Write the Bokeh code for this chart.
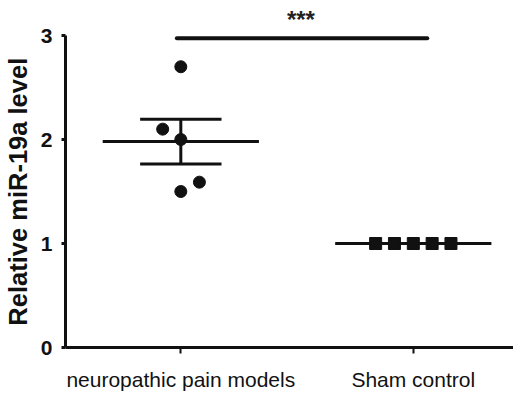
from bokeh.plotting import figure
from bokeh.models import FixedTicker, Range1d
from bokeh.embed import file_html
from bokeh.resources import INLINE
from bokeh.core.properties import value

# ---- data ----
groups = ["neuropathic pain models", "Sham control"]
group_pos = [1, 2]
model_vals = [2.7, 2.1, 2.0, 1.5, 1.59]
model_x = [1.0, 0.922, 1.0, 1.0, 1.08]
sham_vals = [1.0, 1.0, 1.0, 1.0, 1.0]
sham_x = [1.838, 1.919, 2.0, 2.081, 2.162]
means = [1.98, 1.0]
sems = [0.215, 0.0]
y_ticks = [0, 1, 2, 3]
y_title = "Relative miR-19a level"
sig_text = "***"
sig_y = 2.975
sig_x0, sig_x1 = 0.983, 2.06

INK = "#111111"
FONT = "Liberation Sans"
X0, X1, Y1 = 0.504, 2.431, 3.337

p = figure(width=513, height=393,
           x_range=Range1d(X0, X1), y_range=Range1d(0, Y1),
           output_backend="svg", toolbar_location=None,
           min_border_left=63, min_border_right=0,
           min_border_top=0, min_border_bottom=40)
p.outline_line_color = None
p.grid.visible = False
p.background_fill_color = "white"
p.border_fill_color = "white"

# y axis
ya = p.yaxis[0]
ya.ticker = FixedTicker(ticks=y_ticks)
ya.bounds = (0, 3)
ya.axis_label = y_title + "\u00a0" * 5
ya.axis_label_text_font = FONT
ya.axis_label_text_font_style = "bold"
ya.axis_label_text_font_size = "25.5px"
ya.axis_label_text_color = INK
ya.axis_label_standoff = 6
ya.major_label_text_font = FONT
ya.major_label_text_font_style = "bold"
ya.major_label_text_font_size = "21px"
ya.major_label_text_color = INK
ya.major_label_standoff = 9
ya.axis_line_width = 3
ya.axis_line_color = INK
ya.major_tick_line_width = 3
ya.major_tick_line_color = INK
ya.major_tick_out = 4
ya.major_tick_in = 0
ya.minor_tick_line_color = None

# x axis
xa = p.xaxis[0]
xa.ticker = FixedTicker(ticks=group_pos)
xa.major_label_overrides = {gp: g for gp, g in zip(group_pos, groups)}
xa.major_label_text_font = FONT
xa.major_label_text_font_size = "21px"
xa.major_label_text_color = INK
xa.major_label_standoff = 14
xa.axis_line_width = 3
xa.axis_line_color = INK
xa.major_tick_line_width = 2
xa.major_tick_line_color = INK
xa.major_tick_out = 6
xa.major_tick_in = 0
xa.minor_tick_line_color = None

# mean lines
half_mean = 0.336
half_cap = 0.175
p.segment(x0=[g - half_mean for g in group_pos], x1=[g + half_mean for g in group_pos],
          y0=means, y1=means, line_width=3, line_color=INK)
# SEM bars (only where sem > 0)
eb_x = [g for g, s in zip(group_pos, sems) if s > 0]
eb_m = [m for m, s in zip(means, sems) if s > 0]
eb_s = [s for s in sems if s > 0]
p.segment(x0=eb_x, x1=eb_x, y0=[m - s for m, s in zip(eb_m, eb_s)],
          y1=[m + s for m, s in zip(eb_m, eb_s)], line_width=3, line_color=INK)
p.segment(x0=[g - half_cap for g in eb_x] * 2, x1=[g + half_cap for g in eb_x] * 2,
          y0=[m + s for m, s in zip(eb_m, eb_s)] + [m - s for m, s in zip(eb_m, eb_s)],
          y1=[m + s for m, s in zip(eb_m, eb_s)] + [m - s for m, s in zip(eb_m, eb_s)],
          line_width=3, line_color=INK)

# points
p.scatter(x=model_x, y=model_vals, marker="circle", size=12,
          fill_color=INK, line_color=INK)
p.scatter(x=sham_x, y=sham_vals, marker="square", size=12,
          fill_color=INK, line_color=INK)

# significance bracket
p.segment(x0=[sig_x0], x1=[sig_x1], y0=[sig_y], y1=[sig_y],
          line_width=4, line_color=INK, line_cap="round")
p.text(x=[(sig_x0 + sig_x1) / 2 - 0.005], y=[3.155], text=[sig_text],
       text_font=value(FONT), text_font_style="bold", text_font_size="24px",
       text_align="center", text_baseline="alphabetic", text_color="#222222")

open("out.html", "w").write(file_html(p, INLINE))
